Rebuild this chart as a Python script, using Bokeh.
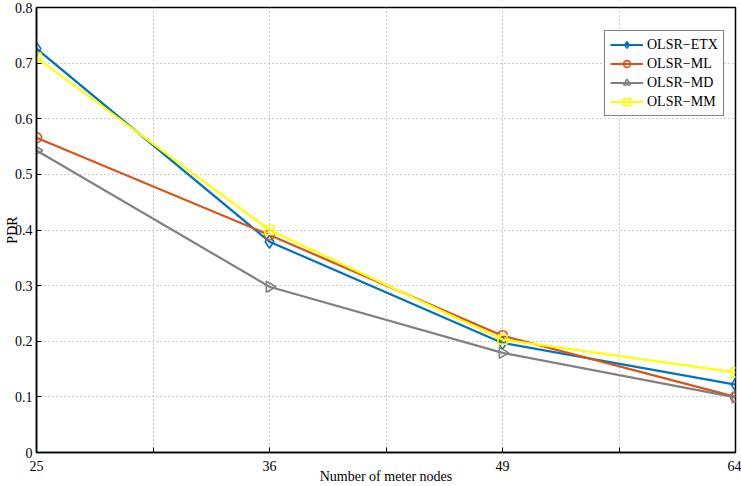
import math
from bokeh.plotting import figure
from bokeh.models import FixedTicker, Legend, LegendItem
from bokeh.embed import file_html
from bokeh.resources import INLINE

nodes = [25, 36, 49, 64]
etx = [0.726, 0.379, 0.197, 0.122]
ml = [0.566, 0.391, 0.210, 0.100]
md = [0.543, 0.298, 0.179, 0.099]
mm = [0.710, 0.400, 0.203, 0.144]
y_ticks = [0, 0.1, 0.2, 0.3, 0.4, 0.5, 0.6, 0.7, 0.8]

xs = [i + 1 for i in range(len(nodes))]
half_ticks = [1 + 0.5 * k for k in range(2 * (len(nodes) - 1) + 1)]

FONT = "Liberation Serif"
FS = "14px"

p = figure(width=741, height=486, output_backend="svg", toolbar_location=None,
           x_range=(1, len(nodes)), y_range=(0, 0.8),
           min_border_left=36, min_border_right=6, min_border_top=7, min_border_bottom=34)
p.background_fill_color = "white"
p.border_fill_color = "white"
p.outline_line_color = "black"
p.outline_line_width = 1.5

p.xaxis.ticker = FixedTicker(ticks=half_ticks)
overrides = {}
for t in half_ticks:
    overrides[float(t)] = ""
for i, n in enumerate(nodes):
    overrides[float(i + 1)] = str(n)
p.xaxis.major_label_overrides = overrides
p.yaxis.ticker = FixedTicker(ticks=y_ticks)
p.yaxis.major_label_overrides = {0: "0"}

for ax in [p.xaxis[0], p.yaxis[0]]:
    ax.axis_line_color = "black"
    ax.axis_line_width = 1.5
    ax.major_tick_in = 5
    ax.major_tick_out = 0
    ax.minor_tick_line_color = None
    ax.major_tick_line_color = "black"
    ax.major_label_text_font = FONT
    ax.major_label_text_font_size = FS
    ax.major_label_text_color = "black"
    ax.axis_label_text_font = FONT
    ax.axis_label_text_font_size = FS
    ax.axis_label_text_font_style = "normal"
    ax.axis_label_text_color = "black"

p.xaxis.axis_label = "Number of meter nodes"
p.xaxis.major_label_standoff = 8
p.xaxis.axis_label_standoff = -5
p.yaxis.axis_label = "PDR"
p.yaxis.major_label_standoff = 4
p.yaxis.axis_label_standoff = -8

for g in [p.xgrid[0], p.ygrid[0]]:
    g.grid_line_color = "#9a9a9a"
    g.grid_line_dash = "1 3"
    g.grid_line_width = 1

series = [
    ("OLSR\u2212ETX", etx, "#0072BD", "diamond", 0.0, 13),
    ("OLSR\u2212ML", ml, "#D95319", "circle", 0.0, 10),
    ("OLSR\u2212MD", md, "#808080", "triangle", -math.pi / 2, 11),
    ("OLSR\u2212MM", mm, "#FFFF00", "square", 0.0, 9),
]
items = []
for name, ys, col, mk, ang, sz in series:
    r1 = p.line(xs, ys, line_color=col, line_width=2.2)
    r2 = p.scatter(xs, ys, marker=mk, size=sz, angle=ang, line_color=col,
                   fill_color=None, line_width=1.6)
    items.append(LegendItem(label=name, renderers=[r1, r2], index=0))

legend = Legend(items=items, location=(568, 336))
legend.label_text_font = FONT
legend.label_text_font_size = FS
legend.label_text_color = "black"
legend.glyph_width = 33
legend.glyph_height = 17
legend.label_height = 17
legend.spacing = 2
legend.padding = 5
legend.margin = 0
legend.label_standoff = 4
legend.border_line_color = "black"
legend.border_line_width = 1
legend.background_fill_alpha = 1
p.add_layout(legend, "center")

open("out.html", "w").write(file_html(p, INLINE))
